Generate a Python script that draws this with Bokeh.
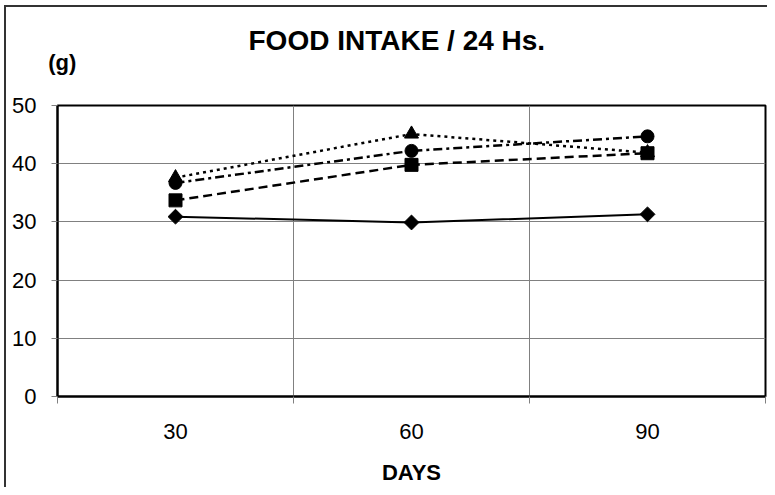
import math
from bokeh.plotting import figure
from bokeh.models import FixedTicker, Title, Range1d, LinearAxis
from bokeh.embed import file_html
from bokeh.resources import INLINE

days = ["30", "60", "90"]
s_diamond = [30.9, 29.9, 31.3]
s_square = [33.7, 39.8, 41.8]
s_circle = [36.7, 42.2, 44.7]
s_triangle = [37.6, 45.1, 41.9]
y_ticks = [0, 10, 20, 30, 40, 50]
unit_label = "(g)"

FONT = "Liberation Sans"

x = [i + 0.5 for i in range(len(days))]

p = figure(width=767, height=487, output_backend="svg", toolbar_location=None,
           x_range=Range1d(0, len(days)), y_range=Range1d(0, 50),
           min_border_left=57, min_border_right=2, min_border_top=105, min_border_bottom=91)

p.title = Title(text="FOOD INTAKE / 24 Hs.", text_font=FONT, text_font_size="28px",
                text_font_style="bold", text_color="black", align="left", offset=191, standoff=-19)

# unit label "(g)" drawn as the single label of an axis above the frame
top_axis = LinearAxis(ticker=FixedTicker(ticks=[0.02]), major_label_overrides={0.02: unit_label},
                      axis_line_color=None, major_tick_line_color=None, minor_tick_line_color=None,
                      major_label_standoff=25, major_label_text_font=FONT,
                      major_label_text_font_size="22px", major_label_text_font_style="bold",
                      major_label_text_color="black")
p.add_layout(top_axis, "above")

p.outline_line_color = "black"
p.outline_line_width = 2

# x axis
bx = p.below[0]
bx.ticker = FixedTicker(ticks=x, minor_ticks=list(range(len(days) + 1)))
bx.major_label_overrides = {xi: d for xi, d in zip(x, days)}
bx.major_tick_out = 0
bx.major_tick_in = 0
bx.minor_tick_out = 7
bx.minor_tick_in = 0
bx.minor_tick_line_color = "#808080"
bx.minor_tick_line_width = 1
bx.axis_line_color = "black"
bx.axis_line_width = 2
bx.major_label_standoff = 20
bx.major_label_text_font = FONT
bx.major_label_text_font_size = "22px"
bx.major_label_text_color = "black"
bx.axis_label = "DAYS"
bx.axis_label_text_font = FONT
bx.axis_label_text_font_size = "22px"
bx.axis_label_text_font_style = "bold"
bx.axis_label_text_color = "black"
bx.axis_label_standoff = 18
p.xgrid.ticker = FixedTicker(ticks=list(range(len(days) + 1)))
p.xgrid.grid_line_color = "#808080"
p.xgrid.grid_line_width = 1

# y axis
ly = p.left[0]
ly.ticker = FixedTicker(ticks=y_ticks)
ly.minor_tick_line_color = None
ly.major_tick_out = 6
ly.major_tick_in = 0
ly.major_tick_line_color = "#808080"
ly.axis_line_color = "black"
ly.axis_line_width = 2
ly.major_label_standoff = 15
ly.major_label_text_font = FONT
ly.major_label_text_font_size = "22px"
ly.major_label_text_color = "black"
p.ygrid.ticker = FixedTicker(ticks=y_ticks)
p.ygrid.grid_line_color = "#808080"
p.ygrid.grid_line_width = 1

p.line(x, s_diamond, line_color="black", line_width=2)
p.scatter(x, s_diamond, marker="square", angle=math.pi / 4, size=10.5, color="black")

p.line(x, s_square, line_color="black", line_width=2.5, line_dash="9 5")
p.scatter(x, s_square, marker="square", size=13, color="black")

p.line(x, s_triangle, line_color="black", line_width=2.5, line_dash="3 4")
p.scatter(x, s_triangle, marker="triangle", size=14, color="black")

p.line(x, s_circle, line_color="black", line_width=2.5, line_dash="9 4 3 4")
p.scatter(x, s_circle, marker="circle", size=13, color="black")

p.background_fill_color = "white"
p.border_fill_color = None
# thin outer chart border (only left and top edges fall inside the picture)
p.styles = {
    "background": "linear-gradient(#333,#333) 4px 5px / 2px calc(100% - 5px) no-repeat, "
                  "linear-gradient(#333,#333) 4px 5px / calc(100% - 4px) 2px no-repeat, #fff",
}

open("out.html", "w").write(file_html(p, INLINE))
